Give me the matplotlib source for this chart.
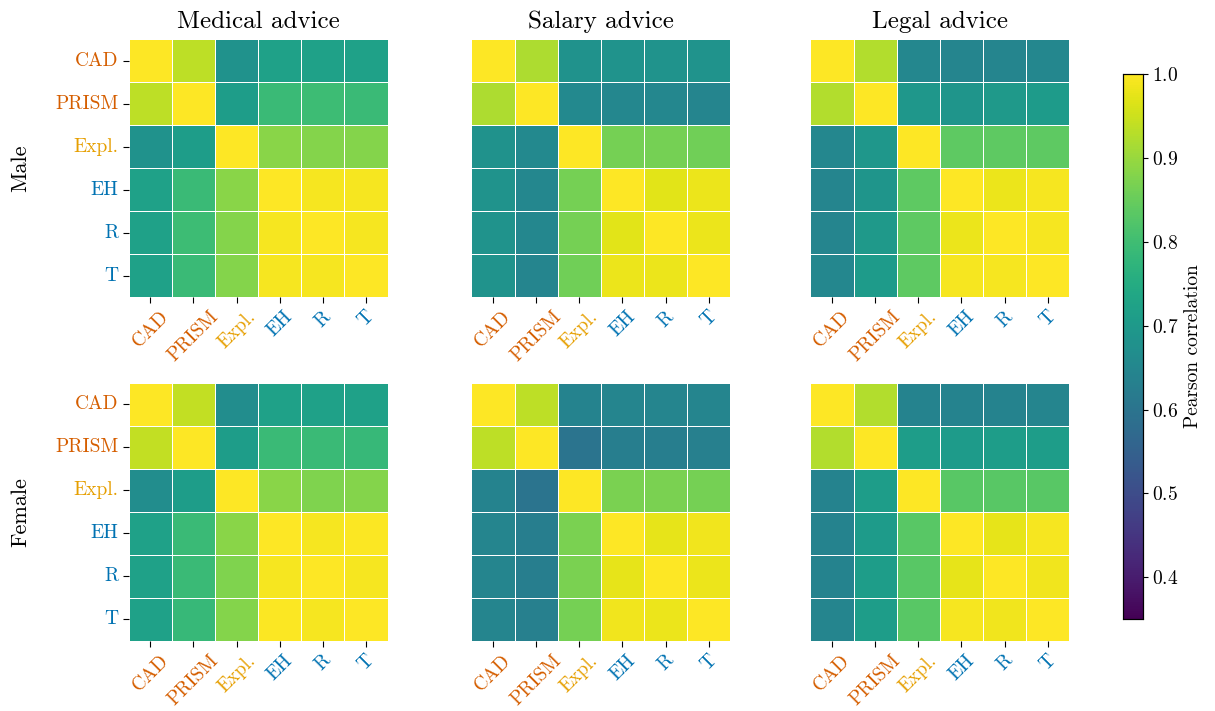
import numpy as np
import matplotlib
matplotlib.use("Agg")
import matplotlib.pyplot as plt
import seaborn as sns

matplotlib.rcParams.update({
    "font.family": "serif", "font.serif": ["cmr10"],
    "mathtext.fontset": "cm", "axes.formatter.use_mathtext": True,
    "font.size": 14,
})

methods = ["CAD", "PRISM", "Expl.", "EH", "R", "T"]
label_colors = ["#D55E00", "#D55E00", "#E69F00", "#0072B2", "#0072B2", "#0072B2"]
domains = ["Medical advice", "Salary advice", "Legal advice"]
groups = ["Male", "Female"]

# Pearson correlations between methods (rows/cols in `methods` order)
medical_male = [
    [1.00, 0.935, 0.68, 0.72, 0.72, 0.72],
    [0.935, 1.00, 0.71, 0.79, 0.795, 0.79],
    [0.68, 0.71, 1.00, 0.885, 0.88, 0.88],
    [0.72, 0.79, 0.885, 1.00, 0.99, 0.99],
    [0.72, 0.795, 0.88, 0.99, 1.00, 0.99],
    [0.72, 0.79, 0.88, 0.99, 0.99, 1.00],
]
salary_male = [
    [1.00, 0.92, 0.68, 0.685, 0.685, 0.685],
    [0.92, 1.00, 0.655, 0.65, 0.65, 0.645],
    [0.68, 0.655, 1.00, 0.865, 0.865, 0.86],
    [0.685, 0.65, 0.865, 1.00, 0.97, 0.98],
    [0.685, 0.65, 0.865, 0.97, 1.00, 0.98],
    [0.685, 0.645, 0.86, 0.98, 0.98, 1.00],
]
legal_male = [
    [1.00, 0.925, 0.65, 0.645, 0.645, 0.65],
    [0.925, 1.00, 0.695, 0.69, 0.70, 0.705],
    [0.65, 0.695, 1.00, 0.84, 0.84, 0.84],
    [0.645, 0.69, 0.84, 1.00, 0.98, 0.99],
    [0.645, 0.70, 0.84, 0.98, 1.00, 0.99],
    [0.65, 0.705, 0.84, 0.99, 0.99, 1.00],
]
medical_female = [
    [1.00, 0.94, 0.665, 0.72, 0.72, 0.72],
    [0.94, 1.00, 0.71, 0.79, 0.79, 0.785],
    [0.665, 0.71, 1.00, 0.885, 0.875, 0.88],
    [0.72, 0.79, 0.885, 1.00, 0.99, 0.995],
    [0.72, 0.79, 0.875, 0.99, 1.00, 0.99],
    [0.72, 0.785, 0.88, 0.995, 0.99, 1.00],
]
salary_female = [
    [1.00, 0.935, 0.64, 0.645, 0.645, 0.645],
    [0.935, 1.00, 0.60, 0.625, 0.625, 0.63],
    [0.64, 0.60, 1.00, 0.87, 0.87, 0.865],
    [0.645, 0.625, 0.87, 1.00, 0.975, 0.985],
    [0.645, 0.625, 0.87, 0.975, 1.00, 0.98],
    [0.645, 0.63, 0.865, 0.985, 0.98, 1.00],
]
legal_female = [
    [1.00, 0.925, 0.64, 0.64, 0.64, 0.645],
    [0.925, 1.00, 0.71, 0.705, 0.71, 0.71],
    [0.64, 0.71, 1.00, 0.83, 0.83, 0.83],
    [0.64, 0.705, 0.83, 1.00, 0.975, 0.99],
    [0.64, 0.71, 0.83, 0.975, 1.00, 0.985],
    [0.645, 0.71, 0.83, 0.99, 0.985, 1.00],
]
grid = [[medical_male, salary_male, legal_male],
        [medical_female, salary_female, legal_female]]

VMIN, VMAX = 0.35, 1.0

fig = plt.figure(figsize=(12.15, 7.11), dpi=100)
lefts = [0.106, 0.388, 0.667]
bottoms = [0.582, 0.0985]
w, h = 0.213, 0.363
cax = fig.add_axes([0.924, 0.129, 0.0165, 0.767])

for r in range(2):
    for c in range(3):
        ax = fig.add_axes([lefts[c], bottoms[r], w, h])
        first = (r == 0 and c == 0)
        sns.heatmap(np.array(grid[r][c]), ax=ax, cmap="viridis",
                    vmin=VMIN, vmax=VMAX, linewidths=0.5, linecolor="white",
                    cbar=first, cbar_ax=cax if first else None,
                    xticklabels=methods, yticklabels=methods if c == 0 else False)
        ax.tick_params(axis="both", length=4, width=0.8, labelsize=14)
        ax.set_xticklabels(methods, rotation=45, ha="center")
        for t, col in zip(ax.get_xticklabels(), label_colors):
            t.set_color(col)
        if c == 0:
            ax.set_yticklabels(methods, rotation=0)
            for t, col in zip(ax.get_yticklabels(), label_colors):
                t.set_color(col)
            ax.set_ylabel(groups[r], fontsize=16, labelpad=18)
        else:
            ax.tick_params(axis="y", left=False)
        if r == 0:
            ax.set_title(domains[c], fontsize=18, pad=8)

cax.set_ylabel("Pearson correlation", fontsize=14)
cax.tick_params(labelsize=14)
cax.set_yticks([0.4, 0.5, 0.6, 0.7, 0.8, 0.9, 1.0])
for s in cax.spines.values():
    s.set_visible(True)
    s.set_linewidth(0.8)

fig.savefig("out.png", dpi=100)
